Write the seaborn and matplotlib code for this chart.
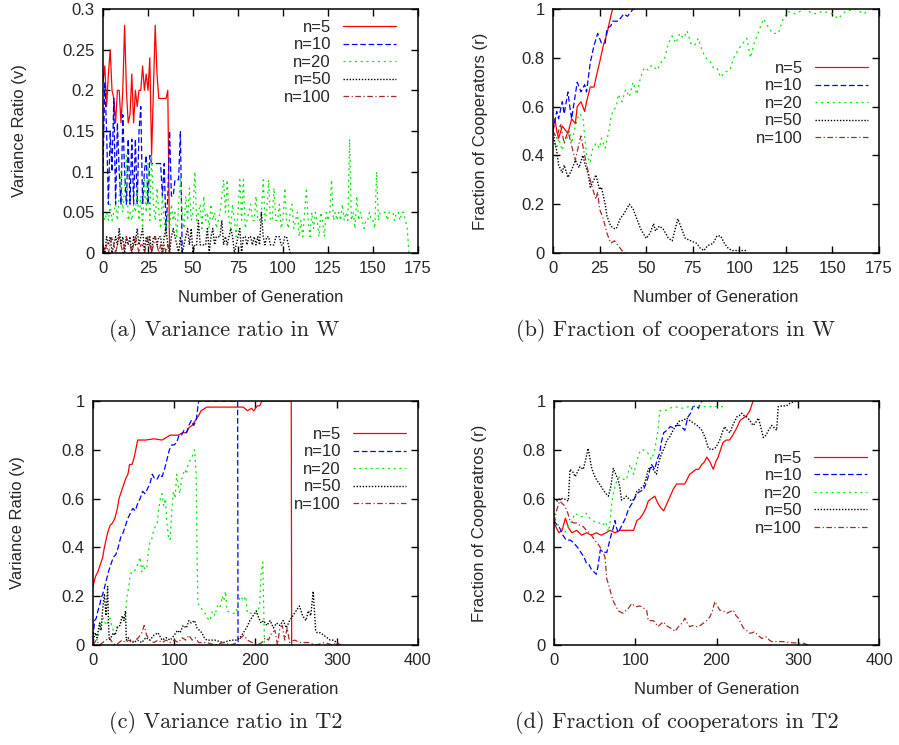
import matplotlib
matplotlib.use("Agg")
import matplotlib.pyplot as plt
import seaborn as sns
from matplotlib.ticker import FuncFormatter

# ---- data ----
labels = ["n=5", "n=10", "n=20", "n=50", "n=100"]

# (a) variance ratio in W, one value per generation
a_n5 = [0.21, 0.23, 0.18, 0.22, 0.25, 0.2, 0.19, 0.16, 0.2, 0.2, 0.16, 0.2, 0.28, 0.2, 0.16,
        0.17, 0.22, 0.16, 0.2, 0.18, 0.2, 0.2, 0.23, 0.2, 0.22, 0.2, 0.24, 0.12, 0.2, 0.28,
        0.22, 0.19, 0.19, 0.19, 0.19, 0.19, 0.2, 0.0]
a_n10 = [0.1, 0.21, 0.15, 0.06, 0.15, 0.1, 0.19, 0.06, 0.16, 0.1, 0.06, 0.17, 0.1, 0.06, 0.14,
         0.06, 0.14, 0.06, 0.14, 0.06, 0.15, 0.18, 0.06, 0.1, 0.12, 0.06, 0.12, 0.11, 0.11, 0.11,
         0.11, 0.11, 0.11, 0.07, 0.11, 0.03, 0.07, 0.15, 0.07, 0.07, 0.09, 0.09, 0.09, 0.15, 0.0]
a_n20 = [0.05, 0.04, 0.05, 0.04, 0.06, 0.04, 0.05, 0.06, 0.04, 0.07,
         0.1, 0.05, 0.08, 0.12, 0.04, 0.05, 0.04, 0.06, 0.05, 0.08,
         0.04, 0.07, 0.03, 0.09, 0.05, 0.11, 0.04, 0.12, 0.06, 0.04,
         0.08, 0.05, 0.03, 0.07, 0.04, 0.02, 0.05, 0.03, 0.06, 0.04,
         0.05, 0.02, 0.06, 0.09, 0.05, 0.03, 0.07, 0.04, 0.08, 0.04,
         0.05, 0.1, 0.04, 0.05, 0.06, 0.03, 0.07, 0.04, 0.05, 0.03,
         0.06, 0.04, 0.05, 0.03, 0.04, 0.05, 0.07, 0.09, 0.05, 0.09,
         0.04, 0.03, 0.06, 0.04, 0.02, 0.05, 0.09, 0.04, 0.09, 0.03,
         0.04, 0.05, 0.06, 0.04, 0.04, 0.07, 0.04, 0.04, 0.05, 0.09,
         0.04, 0.05, 0.09, 0.04, 0.04, 0.08, 0.04, 0.04, 0.06, 0.03,
         0.04, 0.08, 0.04, 0.03, 0.05, 0.06, 0.03, 0.04, 0.05, 0.02,
         0.04, 0.02, 0.05, 0.08, 0.04, 0.02, 0.05, 0.03, 0.05, 0.04,
         0.02, 0.05, 0.04, 0.02, 0.05, 0.04, 0.05, 0.09, 0.04, 0.05,
         0.04, 0.05, 0.04, 0.06, 0.04, 0.05, 0.04, 0.14, 0.04, 0.05,
         0.03, 0.07, 0.04, 0.05, 0.04, 0.03, 0.04, 0.04, 0.05, 0.04,
         0.04, 0.03, 0.1, 0.04, 0.05, 0.05, 0.05, 0.05, 0.04, 0.05,
         0.05, 0.05, 0.04, 0.05, 0.05, 0.04, 0.05, 0.05, 0.04, 0.03,
         0.0]
a_n50 = [0.01, 0.0, 0.02, 0.01, 0.02, 0.0, 0.01, 0.02, 0.01, 0.03, 0.01, 0.02, 0.0, 0.02, 0.01,
         0.02, 0.0, 0.02, 0.01, 0.03, 0.01, 0.02, 0.03, 0.0, 0.02, 0.01, 0.02, 0.0, 0.02, 0.02,
         0.01, 0.02, 0.02, 0.0, 0.02, 0.03, 0.01, 0.0, 0.02, 0.03, 0.02, 0.01, 0.0, 0.02, 0.0,
         0.01, 0.02, 0.03, 0.01, 0.03, 0.0, 0.01, 0.01, 0.04, 0.01, 0.01, 0.01, 0.01, 0.03, 0.0,
         0.02, 0.03, 0.01, 0.02, 0.02, 0.02, 0.04, 0.01, 0.02, 0.01, 0.02, 0.03, 0.02, 0.0, 0.01,
         0.02, 0.03, 0.0, 0.02, 0.02, 0.01, 0.02, 0.02, 0.01, 0.02, 0.01, 0.02, 0.01, 0.05, 0.02,
         0.01, 0.02, 0.02, 0.01, 0.01, 0.01, 0.02, 0.02, 0.02, 0.01, 0.01, 0.02, 0.02, 0.01, 0.0]
a_n100 = [0.01, 0.0, 0.01, 0.0, 0.01, 0.02, 0.01, 0.0, 0.01, 0.02, 0.01, 0.0, 0.01, 0.02, 0.01,
          0.01, 0.0, 0.01, 0.02, 0.01, 0.0, 0.01, 0.01, 0.0, 0.01, 0.02, 0.01, 0.0, 0.01, 0.02,
          0.01, 0.0, 0.01, 0.0, 0.01, 0.0, 0.01, 0.0]

# (b) fraction of cooperators in W, (generation, value)
b_n5 = [(0, .5), (1, .55), (2, .5), (3, .47), (5, .52), (7, .5), (8, .49), (10, .55), (12, .53),
        (13, .6), (15, .62), (17, .58), (18, .62), (20, .68), (22, .68), (24, .75), (25, .78),
        (27, .85), (29, .9), (31, .97), (32, 1.0), (40, 1.0)]
b_n10 = [(0, .5), (2, .58), (3, .55), (5, .62), (6, .57), (8, .66), (9, .6), (10, .55), (12, .65),
         (13, .7), (15, .66), (17, .69), (18, .66), (20, .78), (22, .85), (24, .9), (26, .86),
         (28, .86), (29, .92), (31, .93), (32, .95), (35, .95), (38, .98), (40, .97), (43, 1.0),
         (45, 1.0)]
b_n20 = [(0, .47), (2, .43), (3, .47), (5, .42), (6, .45), (8, .48), (9, .5), (10, .45), (12, .52),
         (14, .57), (16, .56), (17, .48), (18, .4), (20, .37), (21, .42), (23, .45), (25, .43),
         (26, .47), (28, .43), (30, .5), (31, .55), (32, .58), (34, .6), (35, .65), (37, .62),
         (39, .67), (41, .64), (43, .7), (45, .65), (47, .72), (49, .76), (51, .75), (53, .77),
         (56, .75), (58, .78), (60, .8), (62, .86), (64, .89), (66, .86), (68, .9), (70, .88),
         (72, .91), (74, .86), (76, .85), (78, .88), (80, .83), (82, .8), (84, .79), (86, .76),
         (88, .76), (90, .72), (92, .74), (95, .75), (97, .8), (100, .84), (104, .88), (106, .8),
         (108, .86), (110, .9), (113, .96), (116, .92), (118, .9), (121, .9), (123, .95),
         (126, .99), (130, .98), (135, 1.0), (140, .98), (145, .99), (150, .98), (153, .96),
         (157, .99), (162, 1.0), (167, .98), (170, 1.0)]
b_n50 = [(0, .5), (1, .45), (2, .42), (3, .36), (5, .33), (6, .36), (8, .31), (10, .34), (12, .38),
         (14, .35), (16, .4), (17, .37), (19, .32), (20, .27), (22, .3), (23, .32), (25, .26),
         (26, .27), (28, .2), (29, .15), (31, .11), (33, .1), (34, .1), (36, .14), (38, .16),
         (41, .2), (43, .18), (45, .14), (47, .1), (50, .06), (52, .08), (54, .12), (55, .09),
         (57, .11), (59, .1), (62, .06), (64, .05), (67, .14), (69, .1), (71, .06), (74, .05),
         (77, .04), (79, .02), (81, .01), (83, .03), (86, .04), (88, .07), (90, .07), (92, .04),
         (94, .02), (96, .01), (100, .01), (104, .01)]
b_n100 = [(0, .5), (2, .47), (4, .53), (6, .45), (8, .5), (10, .44), (12, .38), (14, .45), (15, .48),
          (17, .4), (19, .33), (21, .27), (23, .22), (24, .25), (25, .18), (27, .14), (29, .08),
          (31, .04), (33, .05), (35, .03), (37, .01), (39, 0.0)]

# (c) variance ratio in T2
c_n5 = [(0, .24), (3, .28), (6, .3), (9, .33), (12, .36), (14, .4), (16, .43), (18, .46), (21, .49),
        (24, .5), (27, .52), (30, .56), (32, .6), (35, .63), (37, .65), (40, .68), (43, .7),
        (45, .74), (48, .74), (50, .76), (52, .79), (55, .84), (58, .84), (65, .84), (75, .845),
        (85, .84), (90, .85), (95, .86), (105, .86), (110, .87), (115, .87), (118, .89), (122, .9),
        (126, .92), (130, .94), (133, .96), (140, .975), (150, .975), (170, .975), (185, .975),
        (190, .96), (195, .97), (198, .96), (202, .98), (205, .98), (208, 1.0), (244, 1.0),
        (244.5, 0.0)]
c_n10 = [(0, .03), (2, .1), (4, .11), (6, .14), (8, .16), (10, .19), (13, .22), (16, .26), (19, .3),
         (22, .33), (25, .36), (28, .37), (31, .4), (34, .44), (37, .46), (40, .49), (43, .52),
         (46, .54), (49, .56), (52, .55), (55, .58), (58, .6), (61, .63), (64, .62), (67, .64),
         (70, .66), (73, .7), (76, .68), (79, .68), (82, .7), (85, .69), (88, .72), (91, .76),
         (94, .8), (97, .82), (100, .82), (103, .83), (106, .86), (109, .86), (112, .88),
         (115, .87), (118, .9), (121, .92), (124, .9), (127, .92), (130, 1.0), (178, 1.0),
         (178.5, 0.0)]
c_n20 = [(0, .03), (3, .05), (5, .02), (8, .06), (10, .1), (13, .11), (16, .08), (19, .1), (21, .11),
         (23, .08), (25, .06), (28, .07), (31, .08), (34, .09), (37, .1), (40, .12), (42, .2),
         (44, .24), (46, .29), (48, .3), (51, .3), (53, .32), (55, .33), (58, .36), (60, .3),
         (62, .33), (64, .31), (66, .31), (68, .38), (70, .42), (72, .43), (74, .46), (76, .48),
         (79, .5), (81, .56), (83, .6), (85, .62), (87, .57), (89, .6), (91, .5), (93, .44),
         (95, .43), (97, .55), (99, .63), (101, .6), (103, .7), (105, .65), (107, .62), (109, .68),
         (111, .7), (113, .72), (115, .7), (117, .74), (120, .76), (122, .77), (125, .8), (127, .7),
         (128, .4), (129, .17), (132, .16), (135, .14), (138, .13), (141, .11), (144, .1),
         (147, .14), (150, .12), (153, .16), (156, .15), (159, .2), (161, .18), (163, .22),
         (165, .14), (170, .13), (176, .13), (179, .18), (182, .2), (185, .18), (188, .2),
         (190, .13), (195, .13), (202, .13), (205, .16), (207, .3), (209, .34), (211, 0.0)]
c_n50 = [(0, .02), (3, .05), (5, .03), (8, .09), (10, .06), (12, .15), (14, .21), (16, .12),
         (18, .24), (19, .1), (20, .02), (22, .03), (25, .05), (27, .04), (30, .07), (33, .08),
         (36, .12), (38, .1), (40, .14), (41, .02), (43, .03), (46, .02), (50, .01), (55, .02),
         (60, .01), (65, .03), (70, .02), (75, .04), (80, .05), (85, .02), (90, .03), (95, .02),
         (100, .04), (104, .06), (107, .05), (111, .08), (115, .07), (118, .1), (121, .09),
         (125, .1), (128, .07), (131, .06), (134, .05), (137, .03), (140, .02), (144, .02),
         (150, .02), (160, .01), (170, .02), (177, .02), (181, .03), (185, .05), (189, .07),
         (193, .1), (197, .12), (201, .14), (204, .11), (207, .09), (210, .1), (214, .08),
         (218, .1), (222, .07), (226, .09), (230, .08), (234, .1), (238, .07), (242, .1),
         (246, .12), (250, .14), (254, .16), (258, .12), (262, .1), (265, .14), (268, .12),
         (271, .22), (274, .06), (276, .05), (280, .05), (284, .04), (288, .03), (292, .02),
         (296, .02), (300, .01), (302, 0.0)]
c_n100 = [(0, 0.0), (4, .02), (8, 0.0), (12, .01), (16, .02), (20, .03), (24, .01), (28, 0.0),
          (32, .01), (36, .02), (40, .01), (44, .02), (48, .01), (52, .02), (56, .03), (60, .05),
          (63, .08), (66, .04), (70, .02), (75, .01), (80, .02), (85, .01), (90, .02), (95, .01),
          (100, .02), (105, .01), (110, .03), (114, .02), (118, .04), (122, .02), (126, .03),
          (130, .01), (140, .01), (150, 0.0), (160, .01), (170, 0.0), (178, .01), (182, .03),
          (186, .04), (190, .02), (196, .01), (202, 0.0), (208, .01), (212, .03), (216, .02),
          (220, .05), (224, .06), (227, 0.0), (230, .07), (233, .08), (236, .02), (239, .07),
          (242, .01), (248, .02), (255, .01), (265, .01), (275, 0.0), (285, .01), (295, 0.0),
          (300, .01), (305, 0.0)]

# (d) fraction of cooperators in T2
d_n5 = [(0, .5), (3, .48), (6, .46), (10, .47), (14, .52), (18, .48), (22, .46), (28, .47),
        (34, .45), (40, .46), (46, .45), (52, .46), (58, .45), (64, .46), (69, .47), (75, .46),
        (81, .47), (90, .47), (98, .47), (102, .51), (106, .52), (110, .54), (113, .56), (116, .59),
        (120, .6), (124, .61), (128, .58), (132, .56), (135, .55), (139, .58), (143, .61),
        (147, .64), (151, .66), (156, .66), (161, .66), (164, .68), (167, .7), (171, .71),
        (175, .72), (178, .72), (182, .74), (185, .75), (188, .77), (192, .75), (196, .72),
        (199, .75), (202, .77), (205, .8), (208, .83), (212, .84), (216, .84), (220, .86),
        (225, .89), (229, .92), (233, .93), (237, .94), (241, .96), (245, 1.0)]
d_n10 = [(0, .51), (4, .49), (7, .48), (11, .45), (15, .43), (20, .43), (24, .42), (29, .4),
         (34, .375), (37, .36), (40, .335), (43, .33), (46, .31), (49, .3), (52, .29), (54, .32),
         (57, .39), (61, .38), (65, .38), (68, .42), (71, .46), (73, .48), (75, .51), (77, .48),
         (79, .46), (82, .48), (85, .5), (88, .52), (91, .55), (94, .57), (96, .58), (99, .6),
         (102, .62), (106, .63), (110, .635), (113, .66), (116, .69), (118, .72), (120, .74),
         (122, .73), (124, .72), (127, .76), (130, .785), (132, .83), (135, .87), (139, .88),
         (143, .895), (147, .89), (151, .9), (155, .9), (158, .89), (161, .88), (163, .91),
         (165, .935), (168, .95), (171, .977), (175, .98), (178, .97), (180, .99), (182, 1.0)]
d_n20 = [(0, .54), (3, .5), (7, .485), (10, .47), (13, .46), (17, .48), (22, .51), (26, .54),
         (30, .53), (34, .525), (37, .53), (40, .54), (44, .52), (48, .51), (52, .5), (56, .5),
         (60, .49), (63, .505), (65, .49), (67, .465), (69, .5), (71, .58), (73, .62), (75, .65),
         (78, .68), (81, .69), (85, .68), (89, .676), (91, .7), (93.5, .74), (96, .72), (98, .7),
         (101, .74), (104, .78), (107, .8), (110, .8), (113, .79), (116, .785), (118, .77),
         (120, .76), (122, .78), (124, .8), (126, .84), (128, .88), (130, .96), (134, .96),
         (139, .963), (143, .97), (147, .977), (152, .975), (159, .97), (163, .975), (167, .977),
         (171, .975), (176, .98), (185, .977), (195, .977), (205, .977), (212, .977)]
d_n50 = [(0, .6), (4, .59), (7, .6), (12, .6), (17.6, .59), (19.7, .72), (23, .71), (26, .69),
         (29, .71), (32, .73), (36, .72), (39, .76), (42, .806), (44, .77), (46, .73), (49, .7),
         (52.5, .676), (56, .66), (60.7, .635), (64, .62), (67, .61), (70, .65), (73, .724),
         (76, .7), (79, .676), (81, .65), (83, .594), (86, .6), (89, .61), (92, .6), (95.6, .59),
         (99, .6), (102, .63), (106, .64), (110, .65), (113, .68), (116, .72), (119, .73),
         (122, .72), (126, .7), (129, .75), (132.5, .785), (136, .81), (139, .84), (142, .85),
         (145, .87), (150, .9), (155, .92), (159, .92), (163, .93), (167, .92), (171.5, .91),
         (176, .9), (182, .88), (186, .85), (190, .806), (194, .8), (198, .806), (201, .82),
         (204, .84), (207, .87), (210, .895), (213, .88), (216.6, .87), (220, .9), (225, .935),
         (228, .94), (231, .95), (234, .94), (237, .935), (241, .92), (245, .9), (248, .91),
         (251.5, .93), (254, .9), (257.6, .85), (261, .86), (264, .88), (268, .9), (271, .89),
         (274, .88), (276, .977), (281, .98), (286, .98), (290, .99), (294.6, .997), (302, 1.0)]
d_n100 = [(0, .5), (3, .55), (7, .59), (10, .58), (13.5, .57), (17, .54), (19.7, .51), (24, .5),
          (28, .5), (32, .49), (36, .485), (40, .47), (44, .46), (48, .44), (52.5, .42),
          (55, .41), (58.7, .39), (62.8, .36), (65, .27), (67, .25), (69, .225), (71, .2),
          (73, .18), (76, .16), (79, .14), (82, .135), (85, .13), (88, .14), (91.5, .15),
          (95.6, .17), (99, .16), (102, .157), (105, .16), (108, .157), (111, .15), (114, .143),
          (116, .1), (119, .1), (122, .1), (125, .09), (128, .075), (131, .085), (134.6, .095),
          (138, .08), (143, .07), (146, .065), (149, .055), (152, .07), (155, .082), (158, .09),
          (161, .11), (164, .09), (167, .075), (171, .08), (176, .075), (180, .08), (184, .09),
          (188, .1), (192, .116), (195, .14), (198, .178), (201, .16), (204, .143), (208, .14),
          (212.5, .13), (216, .135), (220.7, .143), (224, .12), (227, .11), (230, .09), (233, .07),
          (237, .06), (241, .048), (244, .05), (247, .055), (251, .04), (255.6, .027), (259, .03),
          (262, .034), (265, .02), (268, .014), (275, .014), (282, .014), (290, .01), (300, .008),
          (307, .007), (313, 0.0)]

# ---- styling ----
colors = {"n=5": "#ff0000", "n=10": "#0000ff", "n=20": "#00e800", "n=50": "#000000", "n=100": "#a52a2a"}
styles = {"n=5": "-", "n=10": (0, (4.5, 2.2)), "n=20": (0, (1.6, 3.0)),
          "n=50": (0, (1.0, 1.2)), "n=100": (0, (4.5, 2.0, 1.0, 2.0))}
widths = {"n=5": 0.9, "n=10": 0.9, "n=20": 0.9, "n=50": 1.0, "n=100": 0.9}

sns.set_style("ticks")
plt.rcParams["font.family"] = ["Liberation Sans", "DejaVu Sans"]
plt.rcParams["axes.linewidth"] = 1.1
plt.rcParams["xtick.direction"] = "in"
plt.rcParams["ytick.direction"] = "in"

fig = plt.figure(figsize=(8.99, 7.45), dpi=100)


def as_xy(series):
    if isinstance(series[0], tuple):
        xs = [p[0] for p in series]
        ys = [p[1] for p in series]
    else:
        xs = list(range(len(series)))
        ys = series
    return xs, ys


def panel(rect, data, xmax, xstep, ymax, ystep, ylabel, ylab_x, leg_anchor, caption, cap_xy):
    ax = fig.add_axes(rect)
    for name, series in zip(labels, data):
        xs, ys = as_xy(series)
        sns.lineplot(x=xs, y=ys, ax=ax, color=colors[name], linestyle=styles[name],
                     linewidth=widths[name], label=name, estimator=None, sort=False)
    ax.set_xlim(0, xmax)
    ax.set_ylim(0, ymax)
    nx = int(round(xmax / xstep))
    ny = int(round(ymax / ystep))
    ax.set_xticks([i * xstep for i in range(nx + 1)])
    ax.set_yticks([round(i * ystep, 4) for i in range(ny + 1)])
    fmt = FuncFormatter(lambda v, p: f"{v:g}")
    ax.xaxis.set_major_formatter(fmt)
    ax.yaxis.set_major_formatter(fmt)
    ax.tick_params(top=True, right=True, length=5, width=1, labelsize=12, pad=6, color="black")
    for s in ax.spines.values():
        s.set_color("black")
    ax.set_xlabel("Number of Generation", fontsize=12)
    ax.set_ylabel(ylabel, fontsize=12)
    ax.xaxis.set_label_coords(0.5, -0.152)
    ax.yaxis.set_label_coords(ylab_x, 0.5)
    ax.legend(loc="upper right", bbox_to_anchor=leg_anchor, frameon=False, markerfirst=False,
              handlelength=3.2, handletextpad=0.7, labelspacing=0.15, borderpad=0,
              borderaxespad=0, fontsize=12)
    fig.text(cap_xy[0], cap_xy[1], caption, ha="center", va="center", fontsize=16,
             family="cmr10")
    return ax


panel([103 / 899, 1 - 253 / 745, 315 / 899, 244 / 745],
      [a_n5, a_n10, a_n20, a_n50, a_n100], 175, 25, 0.3, 0.05,
      "Variance Ratio (v)", -0.241, (0.93, 0.955),
      "(a) Variance ratio in W", (224 / 899, 1 - 331 / 745))
panel([553 / 899, 1 - 253 / 745, 326 / 899, 244 / 745],
      [b_n5, b_n10, b_n20, b_n50, b_n100], 175, 25, 1.0, 0.2,
      "Fraction of Cooperators (r)", -0.199, (0.966, 0.787),
      "(b) Fraction of cooperators in W", (676 / 899, 1 - 331 / 745))
panel([93 / 899, 1 - 645 / 745, 325 / 899, 244 / 745],
      [c_n5, c_n10, c_n20, c_n50, c_n100], 400, 100, 1.0, 0.2,
      "Variance Ratio (v)", -0.209, (0.963, 0.894),
      "(c) Variance ratio in T2", (226 / 899, 1 - 722 / 745))
panel([554 / 899, 1 - 645 / 745, 325 / 899, 244 / 745],
      [d_n5, d_n10, d_n20, d_n50, d_n100], 400, 100, 1.0, 0.2,
      "Fraction of Cooperatros (r)", -0.206, (0.963, 0.796),
      "(d) Fraction of cooperators in T2", (677 / 899, 1 - 722 / 745))

fig.savefig("out.png", dpi=100)
